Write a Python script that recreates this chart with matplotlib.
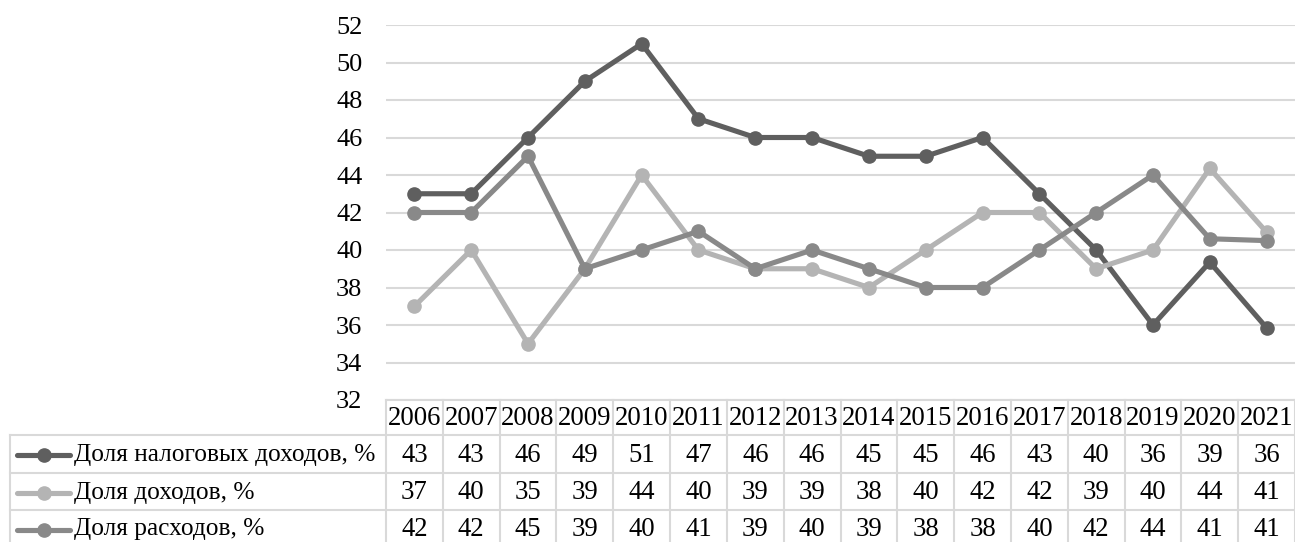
import numpy as np
import matplotlib
matplotlib.use("Agg")
import matplotlib.pyplot as plt

plt.rcParams["font.family"] = ["Liberation Serif", "DejaVu Serif"]

years = ["2006", "2007", "2008", "2009", "2010", "2011", "2012", "2013",
         "2014", "2015", "2016", "2017", "2018", "2019", "2020", "2021"]

tax_share = [43, 43, 46, 49, 51, 47, 46, 46, 45, 45, 46, 43, 40, 36, 39.35, 35.85]
income_share = [37, 40, 35, 39, 44, 40, 39, 39, 38, 40, 42, 42, 39, 40, 44.35, 40.95]
spend_share = [42, 42, 45, 39, 40, 41, 39, 40, 39, 38, 38, 40, 42, 44, 40.6, 40.5]

names = ["Доля налоговых доходов, %", "Доля доходов, %", "Доля расходов, %"]
colors = ["#5f5f5f", "#b4b4b4", "#898989"]
series = [tax_share, income_share, spend_share]

W, H = 1295, 542
fig = plt.figure(figsize=(W / 100, H / 100), dpi=100)

# plot area in pixel terms
left, right, top, bottom = 386, 1295, 25, 400
ax = fig.add_axes([left / W, (H - bottom) / H, (right - left) / W, (bottom - top) / H])
x = np.arange(len(years))
for vals, c in zip(series, colors):
    ax.plot(x, vals, color=c, lw=3.7, marker="o", ms=9.5, solid_capstyle="round")
ax.set_xlim(-0.5, len(years) - 0.5)
ax.set_ylim(32, 52)
ax.set_yticks(np.arange(32, 53, 2))
ax.set_xticks([])
ax.grid(axis="y", color="#d9d9d9", lw=1.5)
ax.set_axisbelow(True)
for s in ax.spines.values():
    s.set_visible(False)
ax.tick_params(axis="y", length=0, pad=17, labelsize=19)

# data table below the plot, drawn in pixel coordinates
tb = fig.add_axes([0, 0, 1, 1])
tb.set_xlim(0, W)
tb.set_ylim(H, 0)
tb.axis("off")
tb.patch.set_alpha(0)

grid_c = "#d9d9d9"
col_w = (right - left) / len(years)
row_tops = [400, 435, 473, 510, 547]
for k in range(len(years) + 1):
    xx = left + k * col_w
    tb.plot([xx, xx], [row_tops[0], H], color=grid_c, lw=1.5)
tb.plot([left, right], [row_tops[0], row_tops[0]], color=grid_c, lw=1.5)
for yy in row_tops[1:4]:
    tb.plot([10, right], [yy, yy], color=grid_c, lw=1.5)
tb.plot([10, 10], [row_tops[1], H], color=grid_c, lw=1.5)

for i, yr in enumerate(years):
    tb.text(left + (i + 0.5) * col_w, (row_tops[0] + row_tops[1]) / 2 + 1, yr,
            ha="center", va="center", fontsize=19.3)

for r, (name, c, vals) in enumerate(zip(names, colors, series)):
    yc = (row_tops[r + 1] + row_tops[r + 2]) / 2 + 1
    tb.plot([17, 70], [yc, yc], color=c, lw=3.7, solid_capstyle="round")
    tb.plot([44], [yc], color=c, marker="o", ms=9.5)
    tb.text(74, yc, name, ha="left", va="center", fontsize=18.3)
    for i, v in enumerate(vals):
        tb.text(left + (i + 0.5) * col_w, yc, f"{int(v + 0.5)}",
                ha="center", va="center", fontsize=19.3)

fig.savefig("out.png", dpi=100)
